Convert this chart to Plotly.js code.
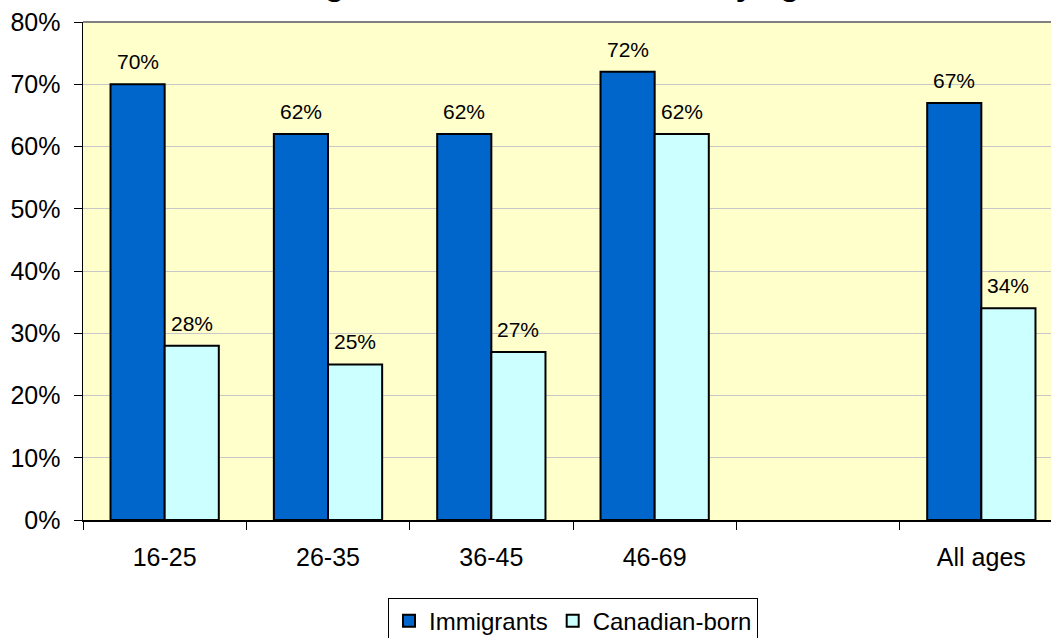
<!DOCTYPE html>
<html>
<head>
<meta charset="utf-8">
<script src="https://cdn.plot.ly/plotly-3.0.1.min.js"></script>
<style>
html, body { margin: 0; padding: 0; overflow: hidden; background: #ffffff; }
#chart { width: 1100px; height: 680px; }
</style>
</head>
<body>
<div id="chart"></div>
<script>
// ---- data ----
var categories = ["16-25", "26-35", "36-45", "46-69", " ", "All ages"];
var immigrants = [70, 62, 62, 72, null, 67];
var canadianBorn = [28, 25, 27, 62, null, 34];
var seriesNames = ["Immigrants", "Canadian-born"];
var yTickValues = [0, 10, 20, 30, 40, 50, 60, 70, 80];
var yTickLabels = ["0%", "10%", "20%", "30%", "40%", "50%", "60%", "70%", "80%"];
var chartTitle = "Working in a lower-skilled trade, by age";

// ---- styles ----
var FONT = "Liberation Sans, Arial, sans-serif";
var colors = ["#0066CC", "#CCFFFF"];

var traces = [immigrants, canadianBorn].map(function (vals, i) {
  return {
    type: "bar",
    name: seriesNames[i],
    x: categories,
    y: vals,
    marker: { color: colors[i], line: { color: "#000000", width: 2 } },
    hoverinfo: "skip"
  };
});

var annotations = [];
[immigrants, canadianBorn].forEach(function (vals, i) {
  vals.forEach(function (v, j) {
    if (v === null) return;
    annotations.push({
      x: categories[j], y: v, xref: "x", yref: "y",
      text: v + "%", showarrow: false,
      xanchor: "center", yanchor: "bottom",
      xshift: i === 0 ? -27 : 27, yshift: 9,
      font: { family: FONT, size: 21, color: "#000000" }
    });
  });
});
annotations.push({
  x: 0.1347, y: 1, xref: "paper", yref: "paper",
  xanchor: "left", yanchor: "bottom", yshift: 18,
  text: "<b>" + chartTitle + "</b>", showarrow: false,
  font: { family: FONT, size: 32, color: "#000000" }
});

var layout = {
  width: 1100, height: 680,
  margin: { l: 83, r: 37, t: 22, b: 160 },
  paper_bgcolor: "#ffffff",
  plot_bgcolor: "#FFFFCC",
  barmode: "group",
  bargap: 0.337,
  bargroupgap: 0,
  showlegend: true,
  legend: {
    orientation: "h", x: 0.5, xanchor: "center", y: -0.156, yanchor: "top",
    bordercolor: "#000000", borderwidth: 1,
    font: { family: FONT, size: 24, color: "#000000" },
    traceorder: "normal"
  },
  xaxis: {
    type: "category",
    range: [-0.5, 5.5],
    showline: true, linecolor: "#000000", linewidth: 1.5,
    ticks: "outside", ticklen: 8, tickcolor: "#000000", tickwidth: 1,
    tickson: "boundaries",
    ticklabelstandoff: 14,
    tickfont: { family: FONT, size: 25, color: "#000000" },
    showgrid: false, zeroline: false, fixedrange: true
  },
  yaxis: {
    range: [0, 80],
    tickmode: "array",
    tickvals: yTickValues,
    ticktext: yTickLabels,
    showline: true, linecolor: "#000000", linewidth: 1.5,
    ticks: "outside", ticklen: 8, tickcolor: "#000000", tickwidth: 1,
    ticklabelstandoff: 8,
    tickfont: { family: FONT, size: 25, color: "#000000" },
    showgrid: true, gridcolor: "#C8C8C8", gridwidth: 1,
    zeroline: false, fixedrange: true
  },
  shapes: [{
    type: "line", xref: "paper", yref: "paper",
    x0: 0, x1: 1, y0: 1, y1: 1,
    line: { color: "#808080", width: 2 }, layer: "above"
  }],
  annotations: annotations
};

Plotly.newPlot("chart", traces, layout, { displayModeBar: false, staticPlot: true });
</script>
</body>
</html>
